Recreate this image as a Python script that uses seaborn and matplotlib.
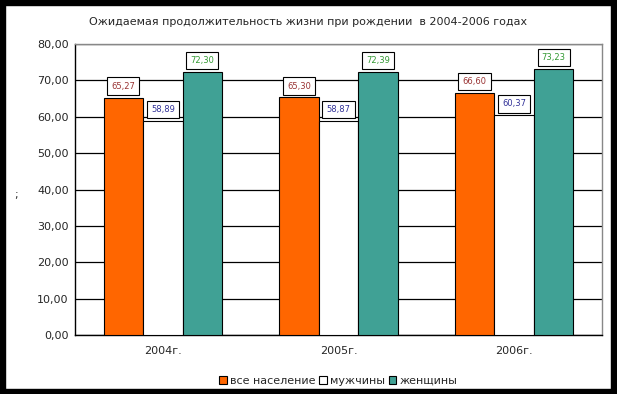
import matplotlib
matplotlib.use("Agg")
import matplotlib.pyplot as plt
import seaborn as sns
import pandas as pd
from matplotlib.patches import Rectangle

years = ["2004г.", "2005г.", "2006г."]
series = ["все население", "мужчины", "женщины"]
all_pop = [65.27, 65.30, 66.60]
men = [58.89, 58.87, 60.37]
women = [72.30, 72.39, 73.23]

colors = ["#FF6600", "#FFFFFF", "#40A195"]
label_colors = ["#993333", "#333399", "#339933"]

rows = []
for s, vals in zip(series, [all_pop, men, women]):
    for y, v in zip(years, vals):
        rows.append({"year": y, "series": s, "value": v})
df = pd.DataFrame(rows)

sns.set_style("white")
plt.rcParams["font.family"] = ["DejaVu Sans"]

fig = plt.figure(figsize=(6.17, 3.94), dpi=100)
ax = fig.add_axes([75/617, 1-335/394, (602-75)/617, (335-44)/394])

sns.barplot(data=df, x="year", y="value", hue="series", hue_order=series,
            palette=colors, width=0.675, edgecolor="black", linewidth=0.8,
            saturation=1, ax=ax, legend=True, zorder=3)

ax.set_ylim(0, 80)
ax.set_xlim(-0.5, 2.5)
ax.set_yticks(range(0, 81, 10))
ax.set_yticklabels([f"{v:.2f}".replace(".", ",") for v in range(0, 81, 10)], fontsize=8)
ax.grid(axis="y", color="black", linewidth=0.9, zorder=0)
ax.set_axisbelow(True)
ax.set_xlabel("")
ax.set_ylabel(";", fontsize=8, rotation=0, ha="center", va="center")
ax.yaxis.set_label_coords((16 - 75) / 527, (335 - 195) / 291)
ax.tick_params(axis="x", length=0, labelsize=8, pad=8)
ax.set_xticks([-0.5, 0.5, 1.5, 2.5], minor=True)
ax.tick_params(axis="x", which="minor", length=4, direction="out", color="black")
ax.tick_params(axis="y", length=5, direction="inout", color="black", pad=2)
for side in ["left", "bottom"]:
    ax.spines[side].set_color("black")
    ax.spines[side].set_linewidth(1)
for side in ["top", "right"]:
    ax.spines[side].set_color("#888888")
    ax.spines[side].set_linewidth(1)
    ax.spines[side].set_visible(True)

for cont, lc in zip(ax.containers, label_colors):
    labels = [f"{b.get_height():.2f}".replace(".", ",") for b in cont]
    ax.bar_label(cont, labels=labels, padding=5, fontsize=6, color=lc,
                 bbox=dict(boxstyle="square,pad=0.5", fc="white", ec="black", lw=0.8),
                 zorder=5)

handles, labs = ax.get_legend_handles_labels()
ax.legend(handles, labs, loc="upper center", bbox_to_anchor=(0.5, -0.105),
          ncol=3, frameon=False, fontsize=8, handlelength=0.7, handleheight=0.7,
          handletextpad=0.3, columnspacing=0.3)

fig.suptitle("Ожидаемая продолжительность жизни при рождении  в 2004-2006 годах",
             fontsize=8, y=1-22/394, va="center")

# black frame
for (x0, y0, w, h) in [(0, 0, 5, 394), (611, 0, 6, 394), (0, 0, 617, 5), (0, 389, 617, 5)]:
    fig.patches.append(Rectangle((x0/617, 1-(y0+h)/394), w/617, h/394,
                                 transform=fig.transFigure, color="black", zorder=10))

fig.savefig("out.png", dpi=100)
